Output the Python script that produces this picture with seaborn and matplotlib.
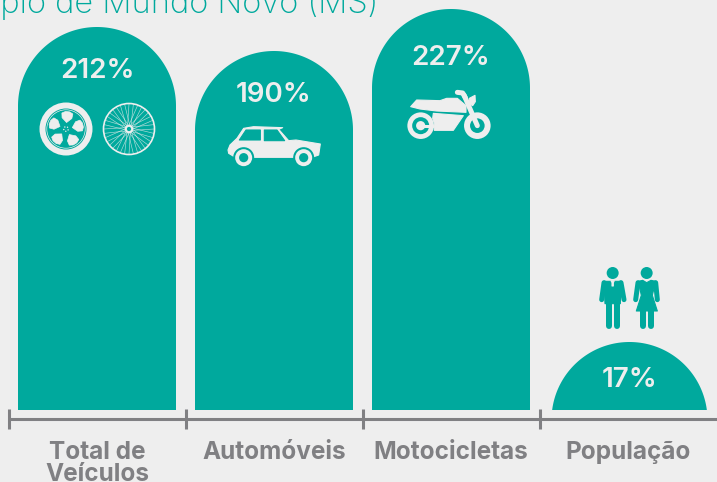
# infografico: crescimento da frota x populacao
import numpy as np
import pandas as pd
import matplotlib
matplotlib.use('Agg')
import matplotlib.pyplot as plt
import seaborn as sns
from matplotlib.patches import Circle, Polygon

categorias = ['Total de\nVeículos', 'Automóveis', 'Motocicletas', 'População']
rotulos = ['212%', '190%', '227%', '17%']
# altura desenhada em px: no original as barras nao sao proporcionais ao rotulo
alturas = [383, 359, 401, 68]
desc_rotulo = [44, 44, 49, 38]

TEAL = '#00A99D'
FUNDO = '#EEEEEE'
CINZA = '#808083'

sns.set_style('white')
plt.rcParams['font.family'] = ['Inter', 'DejaVu Sans']

fig = plt.figure(figsize=(7.17, 4.82), dpi=100, facecolor=FUNDO)
ax = fig.add_axes([0, 0, 1, 1], facecolor=FUNDO)

df = pd.DataFrame({'categoria': categorias, 'altura': alturas})
sns.barplot(data=df, x='categoria', y='altura', color=TEAL, saturation=1, width=158 / 177, ax=ax)

# px -> dados: categorias a cada 177 px, primeira em x=97, base em y=410
ESC = 177
ax.set_xlim(-97 / ESC, (717 - 97) / ESC)
ax.set_ylim(-72, 410)
ax.set_xlabel('')
ax.set_ylabel('')

# troca o retangulo de cada barra por um arco com a mesma largura e altura
for i, barra in enumerate(list(ax.patches)):
    cx = barra.get_x() + barra.get_width() / 2
    h = barra.get_height()
    raio = 79
    if i == 3:
        cx += 1.5 / ESC
        raio = 78
    centro = h - raio
    ini = np.arcsin(max(-centro, 0) / raio)
    ang = np.linspace(ini, np.pi - ini, 120)
    xs = cx + raio * np.cos(ang) / ESC
    ys = centro + raio * np.sin(ang)
    pts = [(xs[0], 0)] + list(zip(xs, ys)) + [(xs[-1], 0)]
    ax.add_patch(Polygon(pts, closed=True, fc=TEAL, ec='none'))
    barra.set_visible(False)

# eixo
for lado in ['top', 'left', 'right']:
    ax.spines[lado].set_visible(False)
ax.spines['bottom'].set_position(('data', -8.5))
ax.spines['bottom'].set_color(CINZA)
ax.spines['bottom'].set_linewidth(2.2)
ax.spines['bottom'].set_bounds(-87.5 / ESC, (717 - 97) / ESC)
ax.set_yticks([])
ax.set_xticks(np.arange(4) - 0.5, minor=True)
ax.tick_params(axis='x', which='minor', bottom=True, direction='inout', length=14, width=2.2, color=CINZA)
ax.tick_params(axis='x', which='major', bottom=False, pad=12.5, labelsize=17.5, labelcolor=CINZA)
for t in ax.get_xticklabels():
    t.set_fontweight('bold')
    t.set_linespacing(0.95)
    t.set_verticalalignment('top')

# camada em pixels para textos e icones
top = fig.add_axes([0, 0, 1, 1], facecolor='none')
top.set_xlim(0, 717)
top.set_ylim(482, 0)
top.axis('off')

top.text(378, 13, 'Município de Mundo Novo (MS)', color=TEAL, fontsize=23.5, fontweight='light', ha='right', va='baseline')

for i, r in enumerate(rotulos):
    top.text(i * 177 + 97 + (1.5 if i == 3 else 0), 410 - alturas[i] + desc_rotulo[i], r, color=FUNDO, fontsize=20,
             fontweight='semibold', ha='center', va='center')


def poligono(pts, ox, oy, cor, z=2):
    pts = [(ox + x / 3, oy + y / 3) for x, y in pts]
    top.add_patch(Polygon(pts, closed=True, fc=cor, ec=cor, lw=0.8, joinstyle='round', zorder=z))


def disco(cx, cy, r, cor, z=2):
    top.add_patch(Circle((cx, cy), r, fc=cor, ec='none', zorder=z))


def traco(pts, ox, oy, larg, cor, z=2):
    top.plot([ox + p[0] / 3 for p in pts], [oy + p[1] / 3 for p in pts], color=cor, lw=larg * 0.72,
             solid_capstyle='round', solid_joinstyle='round', zorder=z)


# roda de carro
disco(66, 129, 26.5, FUNDO)
disco(66, 129, 20.5, TEAL)
top.add_patch(Circle((66, 129), 19.2, fc='none', ec=FUNDO, lw=0.5, zorder=3))
for g in [85, 157, 229, 301, 13]:
    a = np.radians(g)
    p = [(66 + 6.5 * np.cos(a), 129 - 6.5 * np.sin(a))]
    for d, s in [(12, 0.42), (16.5, 0.34), (17.5, 0.12), (17.5, -0.12), (16.5, -0.34), (12, -0.42)]:
        p.append((66 + d * np.cos(a + s), 129 - d * np.sin(a + s)))
    top.add_patch(Polygon(p, fc=FUNDO, ec=FUNDO, lw=0.5, joinstyle='round', zorder=4))
for g in [85, 157, 229, 301, 13]:
    a = np.radians(g + 36)
    disco(66 + 2.3 * np.cos(a), 129 - 2.3 * np.sin(a), 0.7, FUNDO, 4)

# roda de bicicleta
top.add_patch(Circle((129, 129), 25.5, fc=TEAL, ec=FUNDO, lw=1.2, zorder=3))
for a in np.radians(np.arange(0, 360, 10)):
    d = a + 0.5 if int(round(np.degrees(a))) % 20 == 0 else a - 0.5
    top.plot([129 + 3 * np.cos(d), 129 + 25 * np.cos(a)], [129 + 3 * np.sin(d), 129 + 25 * np.sin(a)],
             color=FUNDO, lw=0.45, alpha=0.75, zorder=4)
top.add_patch(Circle((129, 129), 3.2, fc=TEAL, ec=FUNDO, lw=1.5, zorder=5))

# carro (coordenadas do recorte 3x)
OX, OY = 222, 120
poligono([(20, 100), (18, 90), (24, 75), (45, 55), (65, 25), (95, 20), (182, 23), (170, 28), (200, 62), (222, 60),
          (295, 72), (290, 105), (270, 112), (40, 112)], OX, OY, FUNDO)
poligono([(52, 60), (72, 30), (115, 30), (115, 60)], OX, OY, TEAL, 3)
poligono([(127, 30), (165, 30), (188, 62), (127, 62)], OX, OY, TEAL, 3)
for xw in (65, 245):
    disco(OX + xw / 3, OY + 113 / 3, 10.5, TEAL, 3)
    disco(OX + xw / 3, OY + 113 / 3, 8.5, FUNDO, 4)
    disco(OX + xw / 3, OY + 113 / 3, 4.6, TEAL, 5)

# moto
OX, OY = 400, 85
disco(OX + 62 / 3, OY + 122 / 3, 13.3, FUNDO)
disco(OX + 62 / 3, OY + 122 / 3, 8.5, TEAL)
disco(OX + 62 / 3, OY + 122 / 3, 4.6, FUNDO)
traco([(62, 122), (100, 122)], OX, OY, 3, FUNDO, 3)
disco(OX + 232 / 3, OY + 122 / 3, 13.3, FUNDO)
disco(OX + 232 / 3, OY + 122 / 3, 7.3, TEAL, 2)
poligono([(32, 65), (50, 45), (120, 47), (140, 40), (172, 40), (198, 62), (198, 82), (110, 78), (60, 72)], OX, OY, FUNDO, 3)
poligono([(100, 85), (190, 92), (160, 136), (103, 136), (103, 115), (98, 100)], OX, OY, FUNDO, 3)
traco([(192, 30), (232, 122)], OX, OY, 5, FUNDO, 3)
traco([(172, 22), (188, 24), (196, 38)], OX, OY, 5, FUNDO, 3)
poligono([(208, 40), (225, 31), (226, 50), (218, 62), (208, 56)], OX, OY, FUNDO, 3)

# pessoas
OX, OY = 595, 262
disco(OX + 53 / 3, OY + 33 / 3, 6, TEAL)
disco(OX + 155 / 3, OY + 33 / 3, 6, TEAL)
# homem
poligono([(27, 58), (78, 58), (76, 125), (30, 125)], OX, OY, TEAL)
traco([(27, 62), (20, 113)], OX, OY, 5, TEAL)
traco([(78, 62), (87, 113)], OX, OY, 5, TEAL)
traco([(42, 120), (42, 192)], OX, OY, 6, TEAL)
traco([(65, 120), (65, 192)], OX, OY, 6, TEAL)
poligono([(48, 56), (58, 56), (55, 62), (55, 72), (51, 72), (51, 62)], OX, OY, FUNDO, 3)
# mulher
poligono([(130, 58), (143, 55), (155, 62), (168, 55), (182, 58), (172, 100), (187, 147), (124, 147), (139, 100)], OX, OY, TEAL)
traco([(129, 62), (122, 113)], OX, OY, 5, TEAL)
traco([(182, 62), (187, 113)], OX, OY, 5, TEAL)
traco([(144, 145), (144, 192)], OX, OY, 6, TEAL)
traco([(167, 145), (167, 192)], OX, OY, 6, TEAL)

fig.savefig('out.png', dpi=100, facecolor=FUNDO)
